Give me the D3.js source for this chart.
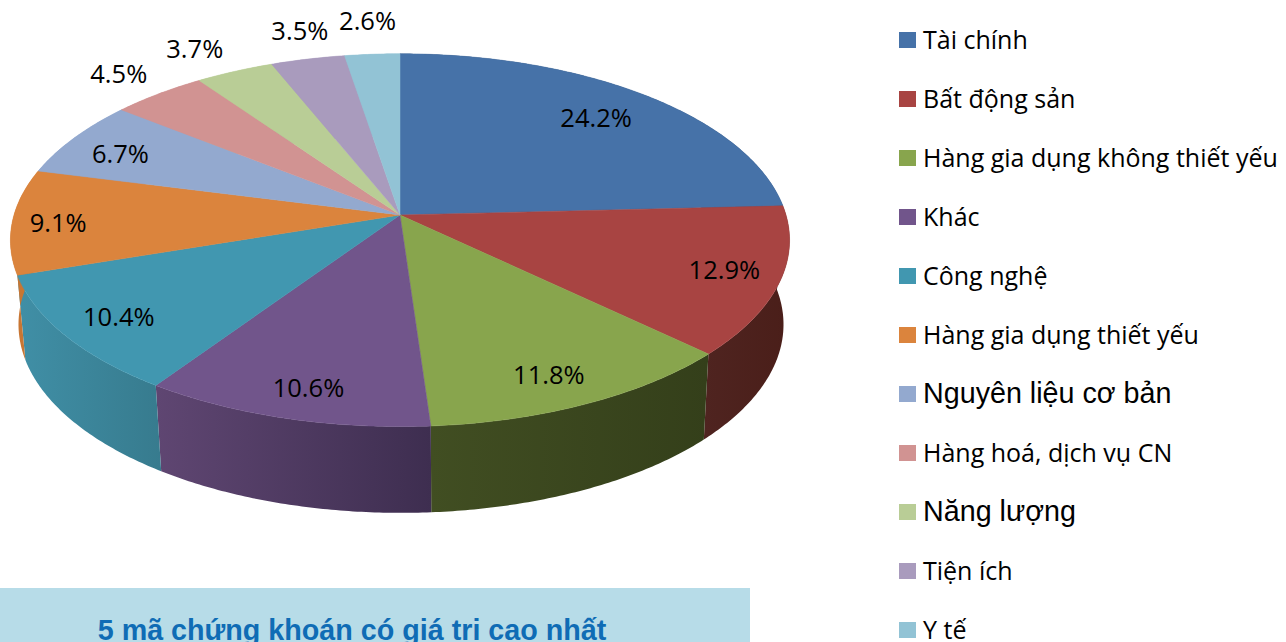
<!DOCTYPE html>
<html><head><meta charset="utf-8">
<script src="https://cdn.jsdelivr.net/npm/d3@7"></script>
<style>html,body{margin:0;padding:0;background:#fff;overflow:hidden}svg{display:block}</style>
</head><body><svg id="c" width="1286" height="642"></svg>
<script>
const categories=["Tài chính","Bất động sản","Hàng gia dụng không thiết yếu","Khác","Công nghệ","Hàng gia dụng thiết yếu","Nguyên liệu cơ bản","Hàng hoá, dịch vụ CN","Năng lượng","Tiện ích","Y tế"];
const shares=[24.2,12.9,11.8,10.6,10.4,9.1,6.7,4.5,3.7,3.5,2.6];
const topColors=["#4672a8","#a84442","#88a54d","#71558b","#4197b0","#db843d","#93a9cf","#d19392","#b9cd96","#a99bbd","#92c3d5"];
const wallLeft=["#2b4566","#4f2420","#414e22","#5f4672","#408fa6","#c87633","#93a9cf","#d19392","#b9cd96","#a99bbd","#92c3d5"];
const wallRight=["#2b4566","#4a1e19","#343f1a","#3e2e50","#377b8e","#c87633","#93a9cf","#d19392","#b9cd96","#a99bbd","#92c3d5"];
const labelRadius=[.79,.86,.85,.86,.85,.88,.86,1.17,1.2,1.2,1.24];
const labelNudge=[[1,-1],[0,-3],[-7,2],[6,1],[0,0],[-1,1],[3,5],[-3,-2],[-11,2],[8,-2],[1,-1]];
const arialRows=["Nguyên liệu cơ bản","Năng lượng"];
const titleText="5 mã chứng khoán có giá trị cao nhất";

const svg=d3.select("#c");
const defs=svg.append("defs");
const K=.135;
const topRim={x0:400,y0:215,a:386,b:183};
const botRim={x0:401,y0:299,a:379,b:185};
const project=(g,ang,r=1)=>{const u=r*Math.sin(ang),v=r*Math.cos(ang),w=1+K*v;return [g.x0+g.a*u/w,g.y0-g.b*v/w];};
const arcs=d3.pie().sort(null).value(d=>d).startAngle(0).endAngle(2*Math.PI)(shares);
const sample=(a)=>{const n=Math.max(8,Math.ceil((a.endAngle-a.startAngle)/.01));return d3.range(n+1).map(i=>a.startAngle+(a.endAngle-a.startAngle)*i/n);};
const line=d3.line();

// walls: back first
const walls=svg.append("g");
arcs.forEach((a,i)=>{
  const ang=sample(a);
  const t=ang.map(x=>project(topRim,x)),b=ang.map(x=>project(botRim,x)).reverse();
  const xs=t.concat(b).map(p=>p[0]);
  const id="w"+i;
  const lg=defs.append("linearGradient").attr("id",id).attr("gradientUnits","userSpaceOnUse")
    .attr("x1",d3.min(xs)).attr("x2",d3.max(xs)).attr("y1",0).attr("y2",0);
  lg.append("stop").attr("offset",0).attr("stop-color",wallLeft[i]);
  lg.append("stop").attr("offset",1).attr("stop-color",wallRight[i]);
  walls.append("path").attr("d",line(t.concat(b))+"Z").attr("fill",`url(#${id})`);
});
// top face
const faces=svg.append("g");
arcs.forEach((a,i)=>{
  const pts=[[topRim.x0,topRim.y0]].concat(sample(a).map(x=>project(topRim,x)));
  faces.append("path").attr("d",line(pts)+"Z").attr("fill",topColors[i]).attr("stroke",topColors[i]).attr("stroke-width",.5);
});
// data labels
const labelFont="'Open Sans',sans-serif";
arcs.forEach((a,i)=>{
  const mid=(a.startAngle+a.endAngle)/2,p=project(topRim,mid,labelRadius[i]);
  svg.append("text").attr("x",p[0]+labelNudge[i][0]).attr("y",p[1]+labelNudge[i][1]).attr("text-anchor","middle").attr("dominant-baseline","central")
    .attr("font-family",labelFont).attr("font-size",25.5).attr("fill","#000").text(shares[i].toFixed(1)+"%");
});
// legend
const rowY=d3.scalePoint().domain(categories).range([40,630]);
categories.forEach((c,i)=>{
  const y=rowY(c),arial=arialRows.includes(c);
  svg.append("rect").attr("x",899).attr("y",y-8).attr("width",17).attr("height",16).attr("fill",topColors[i]);
  svg.append("text").attr("x",923).attr("y",y-1).attr("dominant-baseline","central")
    .attr("font-family",arial?"'Liberation Sans',Arial,sans-serif":labelFont)
    .attr("font-size",arial?28.7:25).attr("fill","#000").text(c);
});
// bottom banner
svg.append("rect").attr("x",0).attr("y",588).attr("width",750).attr("height",54).attr("fill","#b7dce8");
svg.append("text").attr("x",352).attr("y",640).attr("text-anchor","middle")
  .attr("font-family","'Liberation Sans',Arial,sans-serif").attr("font-weight","bold").attr("font-size",28.7).attr("fill","#0f6cb5").text(titleText);
</script></body></html>
